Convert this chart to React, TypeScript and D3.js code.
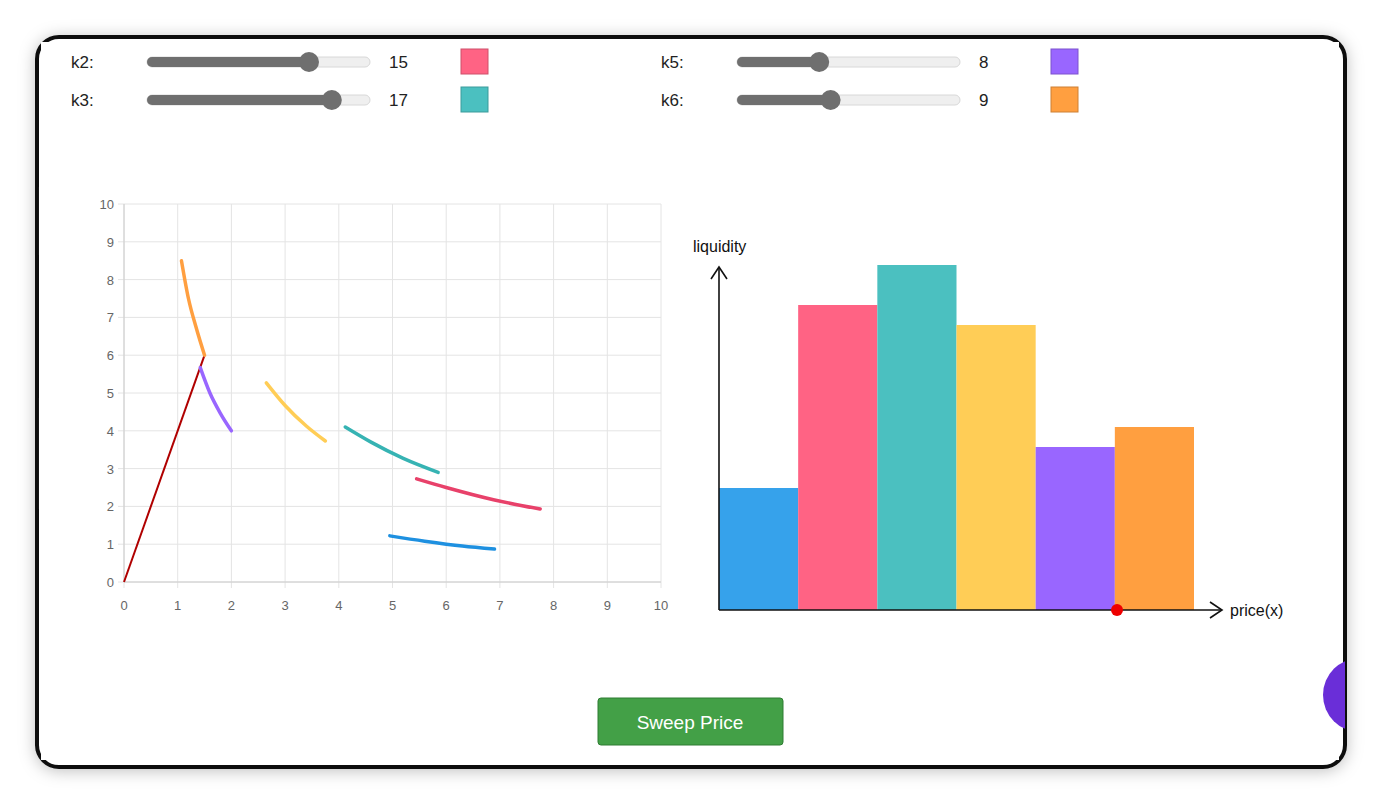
import React, { useEffect, useRef } from 'react'
import * as d3 from 'd3'

const sliders = [
  { name: 'k2', value: 15, color: '#ff6384', col: 0, row: 0 },
  { name: 'k3', value: 17, color: '#4bc0c0', col: 0, row: 1 },
  { name: 'k5', value: 8, color: '#9966ff', col: 1, row: 0 },
  { name: 'k6', value: 9, color: '#ff9f40', col: 1, row: 1 },
]

// curve points [x, y]
const curves = [
  { color: '#ff9f40', pts: [[1.07, 8.5], [1.2, 7.5], [1.35, 6.7], [1.5, 6.0]] },
  { color: '#9966ff', pts: [[1.42, 5.67], [1.6, 5.0], [1.8, 4.45], [2.0, 4.0]] },
  { color: '#ffcd56', pts: [[2.65, 5.27], [3.0, 4.67], [3.4, 4.12], [3.75, 3.73]] },
  { color: '#36b3b3', pts: [[4.12, 4.1], [4.6, 3.7], [5.2, 3.27], [5.85, 2.9]] },
  { color: '#e8416a', pts: [[5.45, 2.73], [6.0, 2.5], [6.9, 2.17], [7.75, 1.93]] },
  { color: '#1e90e0', pts: [[4.95, 1.22], [5.6, 1.08], [6.3, 0.95], [6.9, 0.87]] },
]
const priceLine = [[0, 0], [1.5, 6.0]]

const barColors = ['#36a2eb', '#ff6384', '#4bc0c0', '#ffcd56', '#9966ff', '#ff9f40']
const barValues = [1.22, 3.05, 3.45, 2.85, 1.63, 1.83]

export default function App() {
  const ref = useRef<SVGSVGElement>(null)

  useEffect(() => {
    const svg = d3.select(ref.current)
    svg.selectAll('*').remove()
    const font = 'Helvetica, Arial, "Liberation Sans", sans-serif'

    const defs = svg.append('defs')
    const f = defs.append('filter').attr('id', 'sh').attr('x', '-5%').attr('y', '-5%').attr('width', '110%').attr('height', '110%')
    f.append('feDropShadow').attr('dx', 0).attr('dy', 2).attr('stdDeviation', 8).attr('flood-opacity', 0.25)

    svg.append('rect').attr('width', 1382).attr('height', 804).attr('fill', '#fff')
    svg.append('rect').attr('x', 37).attr('y', 37).attr('width', 1308).attr('height', 730)
      .attr('rx', 22).attr('fill', '#fff').attr('stroke', '#111').attr('stroke-width', 4).attr('filter', 'url(#sh)')
    svg.append('rect').attr('x', 41).attr('y', 42).attr('width', 1298).attr('height', 718).attr('fill', '#fff')

    // sliders
    const sx = d3.scaleLinear().domain([0, 20]).range([138, 366])
    sliders.forEach(s => {
      const ox = s.col * 590
      const y = s.row === 0 ? 62 : 100
      const g = svg.append('g').attr('transform', `translate(${ox},0)`)
      g.append('text').attr('x', 71).attr('y', y + 6).text(s.name + ':').attr('font-family', font).attr('font-size', 17).attr('fill', '#222')
      g.append('rect').attr('x', 147).attr('y', y - 5).attr('width', 223).attr('height', 10).attr('rx', 5)
        .attr('fill', '#efefef').attr('stroke', '#d8d8d8')
      g.append('rect').attr('x', 147).attr('y', y - 5).attr('width', sx(s.value) - 147).attr('height', 10).attr('rx', 5).attr('fill', '#6f6f6f')
      g.append('circle').attr('cx', sx(s.value)).attr('cy', y).attr('r', 10).attr('fill', '#6f6f6f')
      g.append('text').attr('x', 389).attr('y', y + 6).text(s.value).attr('font-family', font).attr('font-size', 17).attr('fill', '#222')
      g.append('rect').attr('x', 461).attr('y', y - 13).attr('width', 27).attr('height', 25).attr('fill', s.color)
        .attr('stroke', d3.color(s.color)!.darker(0.6).toString()).attr('stroke-width', 1)
    })

    // left chart
    const x = d3.scaleLinear().domain([0, 10]).range([124, 661])
    const y = d3.scaleLinear().domain([0, 10]).range([582, 204])
    const ticks = d3.range(0, 11)
    const grid = svg.append('g')
    ticks.forEach(t => {
      grid.append('line').attr('x1', x(t)).attr('x2', x(t)).attr('y1', y(10)).attr('y2', y(0) + 6).attr('stroke', '#e4e4e4')
      grid.append('line').attr('x1', x(0) - 6).attr('x2', x(10)).attr('y1', y(t)).attr('y2', y(t)).attr('stroke', '#e4e4e4')
      grid.append('text').attr('x', x(t)).attr('y', y(0) + 28).attr('text-anchor', 'middle').text(t)
        .attr('font-family', font).attr('font-size', 13).attr('fill', '#666')
      grid.append('text').attr('x', x(0) - 10).attr('y', y(t) + 5).attr('text-anchor', 'end').text(t)
        .attr('font-family', font).attr('font-size', 13).attr('fill', '#666')
    })
    grid.append('line').attr('x1', x(0)).attr('x2', x(0)).attr('y1', y(10)).attr('y2', y(0)).attr('stroke', '#ccc')
    grid.append('line').attr('x1', x(0)).attr('x2', x(10)).attr('y1', y(0)).attr('y2', y(0)).attr('stroke', '#ccc')

    const line = d3.line<number[]>().x(d => x(d[0])).y(d => y(d[1])).curve(d3.curveMonotoneX)
    svg.append('path').attr('d', d3.line<number[]>().x(d => x(d[0])).y(d => y(d[1]))(priceLine))
      .attr('fill', 'none').attr('stroke', '#b00000').attr('stroke-width', 2)
    curves.forEach(c => {
      svg.append('path').attr('d', line(c.pts)).attr('fill', 'none').attr('stroke', c.color)
        .attr('stroke-width', 3.5).attr('stroke-linecap', 'round')
    })

    // right chart
    const bx = d3.scaleBand<number>().domain(d3.range(barValues.length)).range([719, 1194])
    const by = d3.scaleLinear().domain([0, 3.43]).range([610, 267])
    svg.append('g').selectAll('rect').data(barValues).join('rect')
      .attr('x', (_, i) => bx(i)!).attr('width', bx.bandwidth()).attr('y', d => by(d)).attr('height', d => 610 - by(d))
      .attr('fill', (_, i) => barColors[i])
    const ax = svg.append('g').attr('stroke', '#111').attr('stroke-width', 1.6).attr('fill', 'none')
    ax.append('line').attr('x1', 719).attr('y1', 610).attr('x2', 719).attr('y2', 267)
    ax.append('path').attr('d', 'M711,279 L719,267 L727,279')
    ax.append('line').attr('x1', 719).attr('y1', 610).attr('x2', 1222).attr('y2', 610)
    ax.append('path').attr('d', 'M1210,602 L1222,610 L1210,618')
    svg.append('text').attr('x', 693).attr('y', 252).text('liquidity').attr('font-family', font).attr('font-size', 16).attr('fill', '#111')
    svg.append('text').attr('x', 1230).attr('y', 616).text('price(x)').attr('font-family', font).attr('font-size', 16).attr('fill', '#111')
    svg.append('circle').attr('cx', 1117).attr('cy', 610).attr('r', 6).attr('fill', '#e00')

    // button
    svg.append('rect').attr('x', 598).attr('y', 698).attr('width', 185).attr('height', 47).attr('rx', 3)
      .attr('fill', '#43a047').attr('stroke', '#2e7d32')
    svg.append('text').attr('x', 690).attr('y', 729).attr('text-anchor', 'middle').text('Sweep Price')
      .attr('font-family', font).attr('font-size', 19).attr('fill', '#fff')

    // partially hidden round widget at right edge
    svg.append('clipPath').attr('id', 'cp').append('rect').attr('x', 0).attr('y', 0).attr('width', 1345).attr('height', 804)
    svg.append('circle').attr('cx', 1360).attr('cy', 695).attr('r', 37).attr('fill', '#6a2ed8').attr('clip-path', 'url(#cp)')
  }, [])

  return <svg ref={ref} width={1382} height={804} style={{ position: 'absolute', left: 0, top: 0 }} />
}
